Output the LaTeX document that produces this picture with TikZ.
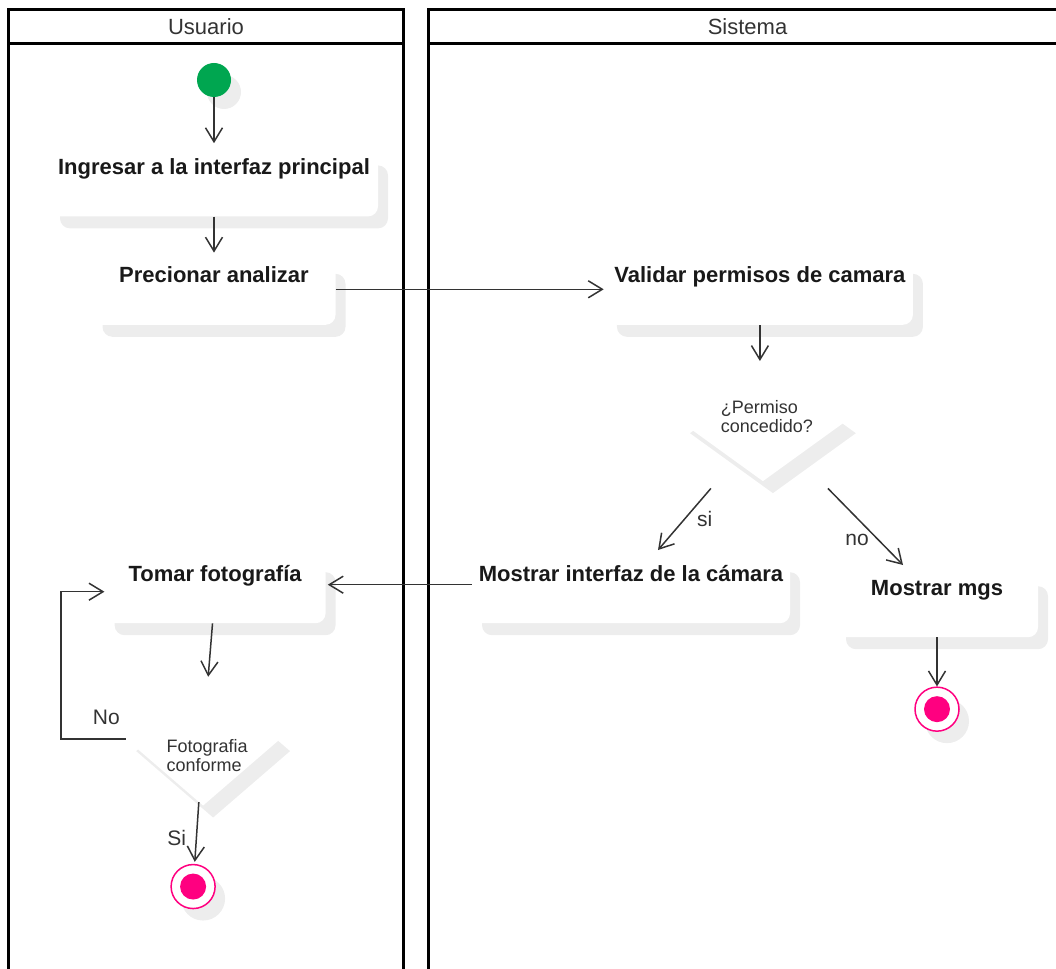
\documentclass[tikz,border=0pt]{standalone}
\usepackage{fontspec}
\setmainfont{Liberation Sans}
\usetikzlibrary{positioning, shapes.geometric, shadows, arrows.meta}
\definecolor{startgreen}{RGB}{0,166,80}
\definecolor{endpink}{RGB}{255,0,128}
\definecolor{inkgray}{RGB}{51,51,51}
\tikzset{
  boxshadow/.style={drop shadow={shadow xshift=10pt, shadow yshift=-12pt, fill=black!7, opacity=1}},
  laneline/.style={draw=black, line width=3pt},
  lanehead/.style={laneline, anchor=north west, minimum height=34pt, inner sep=0pt, outer sep=0pt, text=inkgray, font=\fontsize{22}{26}\selectfont},
  action/.style={fill=white, rounded corners=10pt, boxshadow, text=black!90, font=\fontsize{22}{26}\selectfont\bfseries, text height=15pt, text depth=36pt, inner ysep=6pt, inner xsep=0pt},
  decision/.style={diamond, fill=white, boxshadow, minimum width=166pt, minimum height=120pt, inner sep=0pt},
  dectext/.style={text=inkgray, align=left, inner sep=0pt, font=\fontsize{18}{19}\selectfont},
  startnode/.style={circle, fill=startgreen, minimum size=34pt, inner sep=0pt, boxshadow},
  endnode/.style={circle, draw=endpink, line width=1.5pt, fill=white, minimum size=44pt, inner sep=0pt, boxshadow,
    path picture={\fill[endpink] (path picture bounding box.center) circle (13pt);}},
  flow/.style={draw=inkgray, line width=1.5pt, -{Straight Barb[length=14pt, width=17pt, line width=1.5pt]}},
  edgelab/.style={text=inkgray, inner sep=2pt, font=\fontsize{21}{24}\selectfont},
}

\begin{document}
\begin{tikzpicture}[x=1pt, y=-1pt]
    \useasboundingbox (0,0) rectangle (1056,968);
    \clip (0,0) rectangle (1056,968);

    % swimlanes
    \node[lanehead, minimum width=395pt] (usuario) at (8.5,10) {Usuario};
    \draw[laneline] (usuario.south west) rectangle (usuario.east |- 0,990);
    \node[lanehead, minimum width=638pt] (sistema) at (428.5,10) {Sistema};
    \draw[laneline] (sistema.south west) rectangle (sistema.east |- 0,990);

    \node[startnode] (start) at (214,80) {};
    \node[action, minimum width=328pt, below=56pt of start] (ingresar) {Ingresar a la interfaz principal};
    \node[action, minimum width=243pt, below=45pt of ingresar] (precionar) {Precionar analizar};
    \node[action, minimum width=306pt, right=271pt of precionar] (validar) {Validar permisos de camara};
    \node[decision, below=36pt of validar, xshift=3pt] (permiso) {};
    \node[dectext, xshift=4pt, yshift=5pt] (permisotxt) at (permiso.center) {¿Permiso\\concedido?};
    \node[action, minimum width=318pt, anchor=north] (minterfaz) at (631,560) {Mostrar interfaz de la cámara};
    \node[action, minimum width=202pt, anchor=north] (mgs) at (937,574) {Mostrar mgs};
    \node[endnode, below=49pt of mgs] (fin2) {};
    \node[action, minimum width=221pt, left=146pt of minterfaz] (tomar) {Tomar fotografía};
    \node[decision, minimum width=154pt, minimum height=133pt, below=49pt of tomar, xshift=-12pt] (fotodec) {};
    \node[dectext, xshift=4pt, yshift=-16pt] (fotodectxt) at (fotodec.center) {Fotografia\\conforme};
    \node[endnode, below=58pt of fotodec, xshift=-10pt] (fin1) {};

    % Connect the nodes
    \draw[flow, shorten >=10pt] (start) -- (ingresar) ; %
    \draw[flow, shorten >=9pt] (ingresar) -- (precionar) ; %
    \draw[flow, shorten >=3pt] ([yshift=4pt]precionar.east) -- ([yshift=4pt]validar.west) ; %
    \draw[flow] (validar.south) -- (validar.south |- permiso.north) ; %
    \draw[flow] ([xshift=-52pt,yshift=-7pt]permiso.south) -- node[edgelab, right=10pt] (labsi) {si} ([xshift=27pt,yshift=10pt]minterfaz.north) ; %
    \draw[flow] ([xshift=65pt,yshift=-7pt]permiso.south) -- node[edgelab, below left={5pt and -6pt}] (labno) {no} ([xshift=-34pt,yshift=9pt]mgs.north) ; %
    \draw[flow] (mgs) -- (fin2) ; %
    \draw[flow, shorten >=2pt] ([yshift=7pt]minterfaz.west) -- ([yshift=7pt]tomar.east) ; %
    \draw[flow] (tomar) -- (fotodec) ; %
    \draw[flow, shorten >=2pt] (fotodec) -- node[edgelab, left=8pt, yshift=-5pt] (labSi) {Si} (fin1) ; %
    \draw[flow] (fotodec.west) -- node[edgelab, pos=0.3, above=12pt] (labNo) {No} ++(-65,0) |- (tomar.west) ; %
\end{tikzpicture}
\end{document}
